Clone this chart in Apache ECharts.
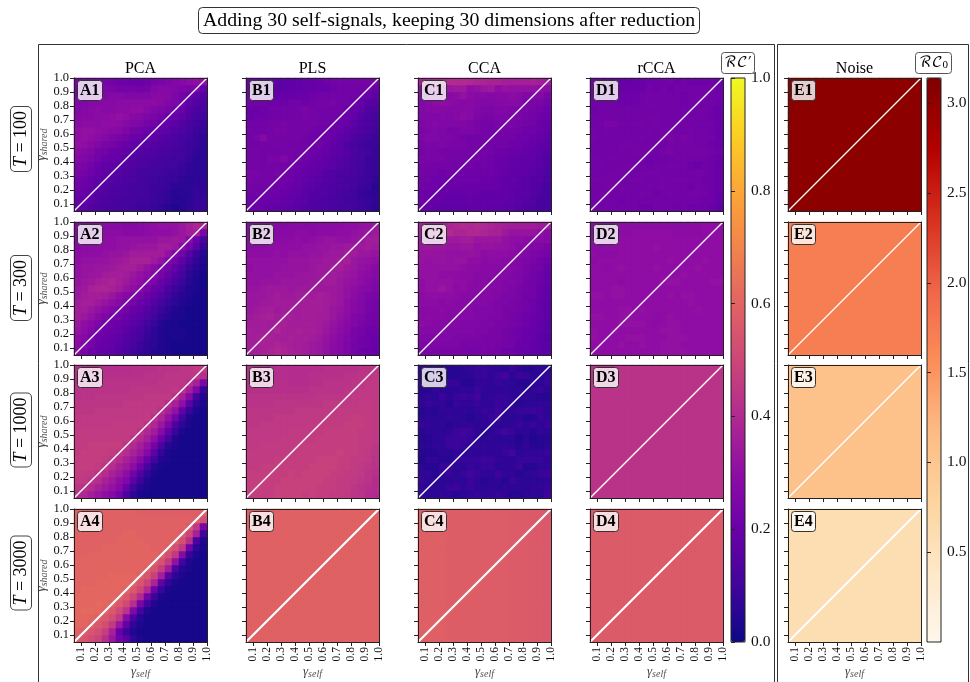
<!DOCTYPE html>
<html><head><meta charset="utf-8"><style>html,body{margin:0;padding:0;background:#fff}#c{width:970px;height:682px}</style>
<script src="https://cdn.jsdelivr.net/npm/echarts@6/dist/echarts.min.js"></script></head><body><div id="c"></div>
<script>
const gammaBands=['0.05','0.10','0.15','0.20','0.25','0.30','0.35','0.40','0.45','0.50','0.55','0.60','0.65','0.70','0.75','0.80','0.85','0.90','0.95'];
const tickValues=[0.1,0.2,0.3,0.4,0.5,0.6,0.7,0.8,0.9,1.0];
const colTitles=['PCA','PLS','CCA','rCCA','Noise'];
const rowTitles=['100','300','1000','3000'];
// values x100, rows listed from high gamma_shared to low, columns from low gamma_self to high
const A1=[[24,24,24,24,23,22,21,21,20,20,21,23,24,25,26,27,29,30,30],[23,24,24,25,25,24,23,23,23,22,23,26,27,27,26,25,24,25,19],[24,25,25,25,26,27,27,26,26,26,26,28,28,27,25,23,20,17,15],[26,26,27,27,28,28,29,29,29,29,29,29,28,26,25,22,17,15,13],[26,27,28,29,28,28,29,29,30,30,28,26,25,24,22,19,15,13,12],[27,28,28,29,29,30,31,30,28,27,25,24,22,20,19,17,14,11,10],[28,29,29,29,30,30,29,27,26,25,23,22,20,18,16,14,12,10,9],[30,31,31,30,29,28,27,25,23,22,20,19,18,16,14,13,11,9,8],[30,31,30,29,27,25,24,22,20,19,18,17,15,14,13,11,10,8,7],[31,30,28,26,24,23,21,20,18,17,16,15,14,13,12,11,9,8,6],[29,27,26,23,22,20,19,18,16,15,14,14,12,12,11,10,9,7,6],[27,26,24,22,20,19,18,16,15,13,13,12,11,11,10,10,8,6,6],[25,24,22,20,18,17,16,15,14,13,12,11,11,10,10,9,7,6,6],[24,23,21,19,17,16,15,14,13,11,10,10,10,9,9,8,7,6,6],[22,21,19,17,16,15,14,13,12,11,10,10,9,8,8,7,6,6,6],[22,20,18,16,15,13,13,12,11,11,10,9,9,8,6,6,6,7,7],[20,19,17,15,14,13,12,12,11,11,10,9,8,7,5,6,6,8,7],[19,18,16,14,13,12,12,11,11,10,10,9,8,7,5,5,6,8,8],[19,16,14,13,12,12,11,11,10,9,9,8,7,5,4,5,7,8,8]];
const A2=[[27,27,27,28,28,28,28,27,27,28,29,30,31,31,31,33,36,38,37],[27,27,27,28,29,29,29,28,28,28,29,30,30,30,31,33,35,36,24],[27,28,28,29,30,30,31,31,31,31,31,31,33,33,34,33,28,20,12],[28,29,29,30,30,30,31,31,32,33,33,33,35,35,33,28,23,16,8],[29,30,30,30,31,32,32,33,35,35,35,35,35,31,26,22,15,9,5],[30,31,31,32,32,33,34,35,37,37,37,34,31,26,22,17,11,7,4],[31,32,32,33,33,34,35,36,36,34,31,29,25,22,18,13,8,5,3],[31,32,33,33,35,36,36,35,33,31,29,27,23,19,15,11,6,4,2],[32,33,34,36,37,38,36,34,32,30,27,24,20,16,12,9,5,3,2],[33,34,37,38,38,37,35,32,30,27,24,20,17,12,9,7,4,3,2],[33,35,36,36,35,33,30,27,25,23,20,17,14,10,7,5,4,2,2],[35,36,36,34,32,30,27,25,23,20,18,14,11,8,6,4,3,2,2],[35,35,33,31,29,26,24,22,20,18,15,12,9,6,4,3,2,2,2],[35,33,31,28,25,23,22,20,18,16,13,10,7,5,3,3,2,2,2],[33,30,28,25,23,21,20,18,16,14,11,8,5,3,3,2,2,2,2],[32,29,26,23,21,20,19,16,14,12,9,6,4,3,3,3,2,2,2],[30,27,24,21,20,19,17,15,13,11,8,6,4,3,3,3,2,2,2],[29,26,23,20,19,18,16,14,12,9,7,6,4,3,2,2,2,2,2],[27,24,21,19,18,17,15,13,10,8,7,5,4,3,2,2,2,2,2]];
const A3=[[42,42,42,42,41,41,41,41,42,42,42,42,43,43,43,44,44,45,45],[42,42,42,42,42,42,42,42,42,42,43,43,43,44,44,44,44,44,42],[42,42,43,43,43,43,43,43,43,43,43,43,44,44,44,44,42,37,25],[43,43,43,43,43,43,43,43,44,44,44,44,44,44,45,43,36,26,8],[43,43,43,44,44,44,44,44,44,44,45,45,45,45,42,36,27,10,4],[44,44,44,44,44,44,44,45,45,45,45,45,45,41,37,30,16,6,3],[44,44,44,45,45,45,45,45,45,45,45,45,42,37,31,18,8,3,2],[45,45,45,45,45,45,45,45,45,45,46,42,38,31,22,10,4,2,2],[45,45,45,45,45,46,46,46,46,46,43,39,33,25,13,6,3,2,2],[46,46,46,46,46,46,46,46,46,43,39,35,28,17,8,3,2,2,2],[46,46,46,46,46,46,46,46,43,40,36,30,20,11,4,2,2,2,2],[46,46,47,47,47,47,47,43,40,36,31,23,12,5,3,2,2,2,2],[46,47,47,47,47,46,44,41,37,33,27,17,7,3,2,2,2,2,2],[47,47,47,47,46,44,41,37,33,27,19,10,4,3,2,2,2,2,2],[47,47,47,46,44,41,37,34,29,21,12,5,3,2,2,2,2,2,2],[47,46,45,43,41,37,34,30,23,14,7,3,2,2,2,2,2,2,2],[46,45,43,41,37,34,30,26,16,9,4,2,2,2,2,2,2,2,2],[44,42,40,37,34,31,27,20,10,5,3,2,2,2,2,2,2,2,2],[41,39,36,33,30,27,22,13,6,3,2,2,2,2,2,2,2,2,2]];
const A4=[[59,59,59,59,59,59,59,59,59,58,58,58,58,58,58,58,58,58,58],[59,59,59,59,59,59,59,59,59,59,59,59,59,59,59,59,59,58,53],[59,59,59,59,59,59,59,59,59,59,59,59,59,59,59,59,56,45,24],[59,59,59,59,59,59,59,60,60,59,59,59,59,59,59,57,50,37,10],[59,59,59,59,59,59,60,60,60,60,59,59,59,59,58,53,42,13,4],[59,59,59,59,60,60,60,60,60,60,60,59,59,58,53,45,22,6,3],[59,59,60,60,60,60,60,60,60,60,60,60,58,53,45,28,8,3,2],[60,60,60,60,60,60,60,60,60,60,60,58,54,46,31,10,4,2,2],[60,60,60,60,60,60,60,60,60,60,58,54,47,35,13,5,3,2,2],[60,60,60,60,60,61,61,61,61,58,55,48,36,16,6,3,2,2,2],[60,60,60,61,61,61,61,61,59,55,49,38,18,7,3,2,2,2,2],[60,61,61,61,61,61,61,59,56,50,40,21,8,3,2,2,2,2,2],[61,61,61,61,61,61,59,56,50,40,22,9,3,2,2,2,2,2,2],[61,61,61,62,61,59,56,51,42,24,10,4,2,2,2,2,2,2,2],[61,62,62,61,59,56,51,43,26,11,4,2,2,2,2,2,2,2,2],[61,61,60,58,56,52,45,28,13,5,2,2,2,2,2,2,2,2,2],[61,60,58,56,52,46,33,18,7,3,2,2,2,2,2,2,2,2,2],[59,57,55,52,47,37,20,9,4,2,2,2,2,2,2,2,2,2,2],[57,55,52,49,42,33,22,16,7,3,2,2,2,2,2,2,2,2,2]];
const B1=[[21,20,19,18,17,17,18,18,19,19,20,21,22,23,23,23,23,23,22],[21,21,20,18,17,17,18,18,19,19,20,20,21,22,22,22,22,22,20],[21,21,21,20,19,19,19,20,20,21,22,22,22,22,22,22,21,20,16],[22,22,22,21,21,21,22,22,21,22,23,23,24,22,22,21,19,15,15],[20,20,21,22,22,22,22,23,24,23,22,22,22,22,21,19,17,14,13],[20,21,21,22,22,22,22,23,24,23,23,22,22,21,20,18,15,13,11],[22,22,22,23,23,24,23,23,23,23,22,22,21,20,19,16,14,13,11],[22,22,22,23,24,24,23,23,23,22,21,21,20,19,17,15,14,12,10],[22,24,27,23,23,23,23,23,22,21,21,20,19,17,16,13,12,10,9],[22,22,23,23,23,23,22,22,22,21,22,20,18,16,13,12,10,9,9],[23,23,22,23,22,23,23,22,22,21,20,19,17,16,15,13,11,10,8],[23,23,22,24,24,26,23,22,21,20,19,18,16,15,14,12,11,9,8],[23,23,22,23,23,23,22,21,20,19,18,17,16,15,13,12,11,9,8],[24,24,23,23,24,22,21,20,19,18,17,15,14,13,13,12,10,9,8],[24,23,23,23,22,22,21,20,18,17,16,15,14,13,12,11,10,9,7],[23,22,22,22,21,21,20,19,17,16,15,14,13,13,12,11,9,8,5],[22,22,21,21,21,20,19,18,16,15,14,14,13,12,11,10,8,7,6],[21,21,20,20,20,19,18,17,16,14,14,13,12,12,10,10,9,8,7],[21,20,19,18,18,18,17,16,15,14,13,13,12,11,11,10,9,8,6]];
const B2=[[28,28,28,28,27,27,28,28,28,28,29,29,29,29,30,30,31,31,33],[28,28,29,28,28,28,28,29,29,28,29,29,29,30,30,31,32,33,34],[29,29,29,29,29,29,29,30,29,30,31,32,32,31,31,32,33,35,35],[29,29,29,30,30,30,30,30,31,31,32,32,33,33,34,34,34,35,34],[30,30,30,30,31,30,31,31,31,32,32,33,34,34,35,35,33,33,32],[31,31,31,31,31,31,32,32,32,33,33,34,34,35,36,33,32,31,30],[30,31,31,31,31,32,32,32,32,33,34,34,35,36,34,33,31,30,28],[31,31,31,31,32,32,32,33,33,33,34,34,35,34,33,32,30,29,27],[31,31,32,32,32,33,33,33,33,34,34,35,35,33,32,31,30,28,26],[32,32,33,34,34,34,33,34,34,34,34,34,34,33,31,30,28,27,25],[33,33,33,34,35,34,34,35,35,35,36,35,34,33,31,29,27,25,24],[33,33,34,34,35,35,35,35,36,36,36,35,34,33,30,28,26,24,23],[33,34,35,36,34,35,35,35,36,36,36,35,33,32,30,28,26,24,23],[34,35,36,37,35,36,36,35,36,36,35,35,33,31,29,26,25,23,22],[35,35,36,35,36,37,36,36,36,36,35,34,32,30,28,26,24,23,22],[36,35,36,36,38,36,36,37,36,36,35,33,31,29,27,24,23,21,21],[36,36,37,37,36,36,37,36,36,35,34,32,30,28,26,24,22,21,20],[36,36,37,37,38,37,36,36,35,34,33,31,29,27,25,23,22,21,20],[35,36,37,38,39,38,37,36,35,34,33,31,29,27,25,23,21,20,19]];
const B3=[[42,42,42,42,42,41,41,41,41,41,41,42,42,42,42,42,43,43,44],[42,42,42,42,41,41,41,41,41,42,42,42,42,42,43,43,44,44,45],[42,42,42,42,42,42,41,41,41,42,42,43,43,43,43,44,44,45,45],[42,42,42,42,42,42,42,42,42,43,43,43,43,43,44,44,45,45,45],[43,43,43,43,43,43,43,43,43,43,44,44,44,44,44,45,45,45,45],[43,43,43,43,44,44,44,44,44,44,44,45,45,45,45,45,46,46,45],[44,44,44,44,44,44,44,45,45,45,45,45,45,46,46,46,46,46,45],[44,44,44,44,45,45,45,45,45,45,45,46,46,46,46,47,47,46,45],[44,44,45,45,45,45,45,45,45,46,46,46,46,46,47,47,47,46,45],[45,45,45,45,45,45,46,46,46,46,46,47,47,47,47,47,46,46,45],[45,45,45,45,45,46,46,46,46,46,47,47,47,47,47,47,46,46,45],[45,45,46,46,46,46,46,46,47,47,47,47,47,47,47,47,46,46,44],[46,46,46,46,46,46,46,47,47,47,47,47,47,48,47,47,46,45,44],[46,46,46,46,47,47,47,47,47,47,48,48,48,47,47,46,46,45,43],[46,46,47,47,47,47,47,47,47,48,48,48,48,47,47,46,45,44,43],[47,47,47,47,47,47,48,47,48,48,48,48,47,47,46,46,45,43,42],[47,47,47,47,47,48,48,48,48,48,48,47,47,46,46,45,44,43,41],[47,47,47,47,48,48,48,48,48,48,47,47,47,46,46,44,43,42,41],[47,47,47,47,48,48,48,48,47,48,47,47,46,46,45,44,43,41,40]];
const B4=[[59]];
const C1=[[37,38,38,39,40,40,40,39,38,38,37,37,36,36,36,36,37,36,34],[29,30,30,30,33,34,34,30,31,33,34,30,32,31,31,31,31,30,29],[28,28,28,29,28,29,31,29,28,28,27,28,28,29,28,26,26,26,24],[26,28,29,30,29,28,27,28,27,26,26,27,28,28,27,24,24,24,22],[26,27,28,27,27,27,28,28,26,25,25,26,26,25,24,24,23,22,21],[26,26,26,27,26,27,29,28,25,24,24,25,25,24,24,23,22,21,20],[25,26,27,26,26,26,26,25,24,23,23,24,24,24,23,22,22,20,19],[24,25,26,25,24,24,25,25,24,23,22,23,23,23,22,21,21,20,18],[25,26,26,25,25,24,23,22,22,23,23,22,22,22,21,21,20,19,17],[24,25,24,25,24,24,24,23,23,22,22,22,22,21,21,20,19,17,16],[23,24,24,23,23,23,23,23,23,23,22,21,21,20,20,19,18,17,15],[24,24,24,24,23,23,23,22,22,22,21,20,20,19,18,18,18,16,14],[23,23,23,23,23,22,22,22,21,22,21,20,20,18,18,18,17,16,14],[23,22,22,21,22,22,21,21,21,21,21,20,19,18,18,17,16,15,13],[22,22,21,21,20,21,21,21,21,20,20,19,18,18,17,16,15,15,13],[22,21,21,20,20,20,20,20,20,20,20,19,18,17,17,16,15,14,12],[21,20,20,19,19,19,19,20,19,18,18,18,18,17,16,16,15,13,11],[21,20,19,18,18,18,18,19,18,18,18,18,18,17,16,15,14,12,12],[20,19,18,17,17,17,17,18,18,18,17,17,16,16,15,14,13,12,12]];
const C2=[[36,36,36,37,38,39,40,39,40,39,38,37,36,35,35,35,35,34,34],[37,38,39,40,40,38,38,39,39,38,37,37,34,32,32,32,32,30,28],[34,35,34,35,34,34,35,35,33,33,33,33,31,30,30,29,28,28,27],[33,34,33,33,32,32,33,33,31,32,32,31,31,30,28,28,26,25,24],[32,32,32,32,31,31,31,32,31,29,30,30,30,29,28,26,25,24,23],[32,31,32,32,31,32,32,30,30,28,29,29,28,28,26,25,24,22,21],[31,31,31,31,31,31,30,29,29,28,28,28,28,27,26,24,23,22,20],[31,31,31,30,30,30,29,29,28,28,28,27,27,26,25,24,22,21,19],[30,31,31,31,31,30,30,29,28,28,27,27,26,26,25,23,22,21,19],[30,31,31,33,31,29,30,28,28,28,27,27,26,25,24,23,22,20,18],[29,30,30,30,30,29,28,28,27,27,27,26,25,25,24,22,22,20,18],[29,29,29,28,29,28,28,27,27,27,26,25,25,24,23,22,21,19,17],[28,28,28,29,28,28,28,27,26,26,26,25,24,24,23,22,21,19,17],[28,29,28,28,27,27,27,27,26,26,25,25,24,23,22,21,20,19,17],[29,28,28,27,27,27,26,26,26,25,25,24,24,23,22,21,20,18,16],[27,27,27,27,26,26,26,26,25,25,24,24,23,22,21,20,19,18,16],[26,26,26,26,26,25,25,25,25,24,24,24,23,22,21,20,19,17,15],[25,25,25,25,25,25,24,24,24,24,24,23,23,22,20,20,18,17,16],[24,24,24,24,24,24,24,23,23,24,23,23,21,21,20,19,18,17,16]];
const C3=[[7,7,7,5,5,5,6,7,8,8,7,7,6,8,6,5,5,6,6],[6,6,7,5,5,5,6,6,8,8,7,9,11,6,9,8,6,6,7],[7,5,6,6,8,8,5,5,7,7,7,8,7,6,5,5,7,6,8],[5,5,7,6,6,6,7,6,9,7,6,7,7,6,7,5,7,8,6],[6,7,6,9,6,8,9,8,10,6,7,8,8,7,6,7,6,5,5],[7,8,7,7,5,8,7,7,8,7,7,9,8,6,5,6,6,7,7],[5,6,5,7,7,6,7,6,7,8,7,9,7,7,8,8,9,8,6],[6,7,6,6,7,7,6,5,6,7,8,10,6,6,7,5,5,8,7],[8,7,6,7,5,6,7,7,6,7,7,6,6,7,8,7,8,7,8],[5,6,7,6,7,9,10,9,7,5,6,8,10,8,6,6,5,7,6],[5,5,6,7,9,9,9,8,6,6,7,6,6,6,4,6,4,5,5],[6,6,7,6,8,9,8,7,7,7,6,7,7,6,5,7,5,5,6],[5,5,5,7,6,7,6,7,7,7,7,7,8,10,6,7,7,7,8],[4,7,7,5,5,8,8,8,8,9,9,7,7,6,8,8,8,8,7],[6,5,5,8,9,7,6,8,7,8,8,6,7,7,9,5,5,7,7],[7,7,5,7,8,6,8,10,8,7,6,9,7,7,5,6,7,8,9],[8,6,6,6,6,7,6,9,7,5,6,7,5,8,7,6,6,6,7],[7,6,6,6,8,9,7,8,7,6,7,6,7,6,6,6,7,7,8],[6,6,6,7,7,5,6,7,8,7,7,8,7,5,5,6,7,6,9]];
const C4=[[58.5,58.5,58.5,58.5,58,58,58,58,58,57.5,57.5,57.5,57.5,57,57,57,56.5,56.5,56]];
const D1=[[22,21,20,20,19,19,20,20,21,21,22,22,21,22,21,21,21,21,21],[22,22,21,21,20,20,20,20,22,21,22,21,22,22,22,22,22,22,21],[22,22,21,22,21,21,21,22,23,22,22,22,22,21,22,23,22,22,21],[22,22,22,22,21,21,21,22,23,23,22,22,22,21,22,22,22,22,21],[21,22,22,22,22,22,22,22,22,22,22,22,22,22,22,22,22,21,20],[22,22,22,22,22,22,22,22,23,23,22,22,22,22,22,22,22,21,20],[22,22,24,24,22,22,23,23,22,23,22,22,22,22,22,22,22,22,20],[23,22,23,22,22,22,22,22,23,22,23,23,22,22,23,22,22,21,20],[23,22,22,22,22,22,22,23,22,22,23,24,23,24,23,22,22,22,20],[22,22,22,22,23,23,23,22,22,22,22,23,23,23,23,22,22,21,20],[22,22,22,22,23,22,23,23,22,22,23,24,22,23,23,23,23,22,21],[23,23,22,23,22,22,22,22,21,21,22,22,22,23,22,22,22,21,20],[22,23,22,22,23,23,22,22,21,22,22,23,23,22,21,20,22,21,19],[22,22,23,23,23,22,22,22,23,23,22,22,22,22,22,23,22,21,20],[23,23,23,23,22,22,23,23,22,22,23,23,23,23,22,22,21,21,20],[22,22,23,23,23,22,22,22,23,22,23,22,22,22,21,23,22,21,20],[22,23,23,22,22,22,22,23,22,21,22,23,22,22,23,22,22,21,19],[22,22,22,22,21,22,22,22,22,22,22,22,22,22,22,22,21,21,19],[22,22,22,22,22,22,22,21,21,22,22,22,21,22,21,21,21,20,17]];
const D2=[[29,29,29,29,29,29,29,29,29,29,29,29,29,29,29,29,30,30,30],[29,29,29,29,29,29,30,30,30,30,30,30,29,29,29,29,30,30,30],[30,30,30,30,30,30,30,30,30,30,30,30,30,30,30,30,30,30,30],[29,29,30,30,30,30,30,30,30,31,30,30,30,30,30,30,30,30,30],[30,29,29,29,30,30,30,30,30,30,30,30,30,30,30,30,30,30,30],[29,30,30,30,30,30,30,30,30,30,30,31,30,30,30,30,31,30,30],[30,30,29,30,31,30,30,30,30,31,30,30,30,30,30,31,30,30,30],[30,30,30,30,30,30,30,30,30,30,30,30,30,31,30,30,30,30,30],[30,30,30,30,29,30,30,30,30,30,31,31,31,30,30,30,30,31,31],[30,30,30,31,31,30,30,30,30,30,30,30,30,30,30,30,30,30,30],[31,31,30,31,31,30,30,30,30,30,30,31,30,31,31,30,30,30,30],[30,30,30,30,30,30,30,30,30,30,30,30,30,30,31,30,30,30,30],[30,30,30,30,31,31,30,31,30,30,30,30,30,30,30,31,30,30,30],[31,31,30,30,31,31,30,30,30,29,30,31,30,30,30,30,30,30,30],[30,30,30,30,31,31,31,31,30,29,30,31,31,30,30,30,30,30,30],[31,30,30,31,30,30,30,30,30,30,31,31,31,30,30,30,30,30,30],[31,30,30,30,30,31,31,31,30,30,30,31,31,31,30,30,30,30,30],[30,30,30,30,31,30,30,31,30,30,31,31,31,30,30,30,30,30,30],[30,30,30,30,30,30,30,30,30,30,31,31,31,31,30,30,30,30,30]];
const D3=[[43]];
const D4=[[57]];
const E1=[[304]];
const E2=[[172]];
const E3=[[107]];
const E4=[[60]];
const panelRows=[[A1,B1,C1,D1,E1],[A2,B2,C2,D2,E2],[A3,B3,C3,D3,E3],[A4,B4,C4,D4,E4]];
const colLetters=['A','B','C','D','E'];
const plasma=['#0d0887','#41049d','#6a00a8','#8f0da4','#b12a90','#cc4778','#e16462','#f2844b','#fca636','#fcce25','#f0f921'];
const orRd=['#fff7ec','#fee8c8','#fdd49e','#fdbb84','#fc8d59','#ef6548','#d7301f','#b30000','#7f0000'];
const barRC=[0,0.2,0.4,0.6,0.8,1.0];
const barRC0=[0.5,1.0,1.5,2.0,2.5,3.0];

const serif='"Liberation Serif","Times New Roman",serif';
const ink='#222';
const lefts=[74,246,418,590,788],tops=[78,222,365,509],size=133;
const lineW=[1.3,1.3,1.5,2.2];
const grid=[],xAxis=[],yAxis=[],series=[],title=[];
const gammaRich={g:{fontFamily:serif,fontStyle:'italic',fontSize:13,color:'#444'},s:{fontFamily:serif,fontStyle:'italic',fontSize:10,color:'#555',padding:[5,0,0,0]}};
const frame={show:true,lineStyle:{color:ink,width:1}};
let n=0;
tops.forEach((top,r)=>lefts.forEach((left,c)=>{
  grid.push({left,top,width:size,height:size});
  const g=n;
  xAxis.push({type:'category',gridIndex:g,position:'top',data:gammaBands,z:5,axisLine:frame,axisTick:{show:false},axisLabel:{show:false},splitLine:{show:false}});
  xAxis.push({type:'value',gridIndex:g,position:'bottom',min:0.05,max:1,z:5,axisLine:frame,splitLine:{show:false},
    axisTick:{show:true,length:4,lineStyle:{color:ink},customValues:tickValues},
    axisLabel:{show:r===3,customValues:tickValues,rotate:90,fontFamily:serif,fontSize:11.5,color:'#111',margin:5,formatter:v=>v.toFixed(1)},
    ...(r===3?{name:'{g|γ}{s|self}',nameLocation:'middle',nameGap:22,nameTextStyle:{rich:gammaRich}}:{})});
  yAxis.push({type:'category',gridIndex:g,position:'right',data:gammaBands,z:5,axisLine:frame,axisTick:{show:false},axisLabel:{show:false},splitLine:{show:false}});
  yAxis.push({type:'value',gridIndex:g,position:'left',min:0.05,max:1,z:5,axisLine:frame,splitLine:{show:false},
    axisTick:{show:true,length:4,lineStyle:{color:ink},customValues:tickValues},
    axisLabel:{show:c===0,customValues:tickValues,fontFamily:serif,fontSize:12.5,color:'#111',margin:5,formatter:v=>v.toFixed(1)},
    ...(c===0?{name:'{g|γ}{s|shared}',nameLocation:'middle',nameGap:22,nameTextStyle:{rich:gammaRich}}:{})});
  const rows=panelRows[r][c],data=[];
  gammaBands.forEach((_,y)=>{
    const row=rows[18-y]||rows[0];
    gammaBands.forEach((__,x)=>data.push([x,y,(row[x]??row[0])/100]));
  });
  series.push({type:'heatmap',xAxisIndex:2*g,yAxisIndex:2*g,data,silent:true,progressive:0,animation:false,z:2,itemStyle:{borderWidth:0}});
  series.push({type:'line',xAxisIndex:2*g+1,yAxisIndex:2*g+1,data:[[0.05,0.05],[1,1]],symbol:'none',silent:true,animation:false,z:3,lineStyle:{color:'#fff',width:lineW[r]}});
  title.push({text:colLetters[c]+(r+1),left:left+3,top:top+2,padding:[3,3,2,3],backgroundColor:'rgba(255,255,255,0.8)',borderColor:'#333',borderWidth:1,borderRadius:3,z:8,
    textStyle:{fontFamily:serif,fontWeight:'bold',fontSize:16,color:'#000',lineHeight:16}});
  n++;
}));
// colour bars: tick axes
const barGrid=(left,max,vals,g)=>{
  grid.push({left,top:78,width:14,height:564});
  xAxis.push({type:'value',gridIndex:g,show:false});
  yAxis.push({type:'value',gridIndex:g,position:'right',min:0,max,z:5,axisLine:{show:false},splitLine:{show:false},
    axisTick:{show:true,length:4,lineStyle:{color:ink},customValues:vals},
    axisLabel:{customValues:vals,fontFamily:serif,fontSize:15.5,color:'#111',margin:6,formatter:v=>v.toFixed(1)}});
};
barGrid(731,1,barRC,20);
barGrid(927,3.14,barRC0,21);
const rcIdx=[],rc0Idx=[];
for(let i=0;i<20;i++){ (i%5===4?rc0Idx:rcIdx).push(2*i); }
const vm=(seriesIndex,min,max,colors,left)=>({type:'continuous',seriesIndex,min,max,calculable:false,hoverLink:false,realtime:false,text:null,showLabel:false,
  left,top:78,itemWidth:14,itemHeight:564,padding:0,inRange:{color:colors},orient:'vertical'});
const rcFont='"DejaVu Math TeX Gyre","DejaVu Serif","DejaVu Sans",serif';
title.push({text:'Adding 30 self-signals, keeping 30 dimensions after reduction',left:198,top:8,padding:[3,5,3,5],borderColor:'#333',borderWidth:1,borderRadius:4,backgroundColor:'#fff',textStyle:{fontFamily:serif,fontSize:19.8,fontWeight:'normal',color:'#000',lineHeight:19}});
colTitles.forEach((t,c)=>title.push({text:t,left:lefts[c]+size/2,top:61,padding:0,textAlign:'center',textStyle:{fontFamily:serif,fontSize:16,fontWeight:'normal',color:'#000',lineHeight:16}}));
title.push({text:'ℛ𝒞′',left:721,top:52,padding:[2,3,2,3],borderColor:'#555',borderWidth:1,borderRadius:3,backgroundColor:'#fff',textStyle:{fontFamily:rcFont,fontSize:15,fontWeight:'normal',color:'#000',lineHeight:18}});
title.push({text:'{a|ℛ𝒞}{b|0}',left:915,top:52,padding:[2,4,2,4],borderColor:'#555',borderWidth:1,borderRadius:3,backgroundColor:'#fff',textStyle:{fontFamily:rcFont,fontSize:15,fontWeight:'normal',color:'#000',lineHeight:18,rich:{a:{fontFamily:rcFont,fontSize:15,color:'#000'},b:{fontFamily:serif,fontSize:11,color:'#000',padding:[5,0,0,0]}}}});
const rowY=[139,288,430,573];
const graphic=[
  {type:'rect',shape:{x:38.5,y:44.5,width:736,height:660},style:{fill:'none',stroke:'#333',lineWidth:1},silent:true,z:0},
  {type:'rect',shape:{x:777.5,y:44.5,width:191,height:660},style:{fill:'none',stroke:'#333',lineWidth:1},silent:true,z:0},
  {type:'rect',shape:{x:731,y:78,width:14,height:564},style:{fill:'none',stroke:ink,lineWidth:1},silent:true,z:20},
  {type:'rect',shape:{x:927,y:78,width:14,height:564},style:{fill:'none',stroke:ink,lineWidth:1},silent:true,z:20}
];
rowTitles.forEach((t,r)=>graphic.push({type:'text',x:21,y:rowY[r],rotation:Math.PI/2,silent:true,z:10,
  style:{text:'{i|T} = '+t,align:'center',verticalAlign:'middle',fontFamily:serif,fontSize:18,fill:'#000',backgroundColor:'#fff',borderColor:'#444',borderWidth:1,borderRadius:4,padding:[1,4,1,4],rich:{i:{fontFamily:serif,fontStyle:'italic',fontSize:18,fill:'#000'}}}}));
const chart=echarts.init(document.getElementById('c'),null,{renderer:'canvas'});
chart.setOption({animation:false,backgroundColor:'#fff',tooltip:{show:false},grid,xAxis,yAxis,series,title,graphic,
  visualMap:[vm(rcIdx,0,1,plasma,731),vm(rc0Idx,0,3.14,orRd,927)]});
</script></body></html>
